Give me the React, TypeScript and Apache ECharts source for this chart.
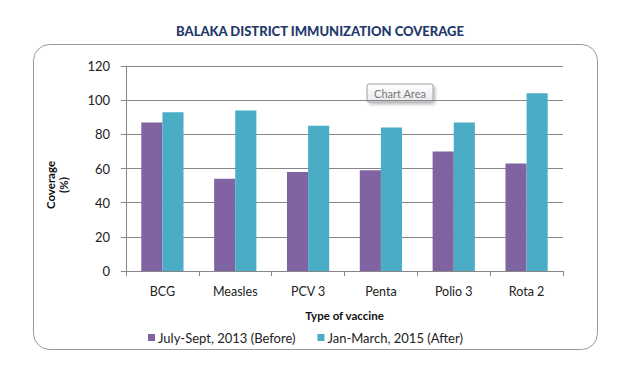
import React, { useEffect, useRef } from "react";
import * as echarts from "echarts";

const categories = ["BCG", "Measles", "PCV 3", "Penta", "Polio 3", "Rota 2"];
const seriesNames = ["July-Sept, 2013 (Before)", "Jan-March, 2015 (After)"];
const beforeValues = [87, 54, 58, 59, 70, 63];
const afterValues = [93, 94, 85, 84, 87, 104];
const yTicks = { min: 0, max: 120, interval: 20 };

const FONT = "Lato, 'Open Sans', sans-serif";

export default function App() {
  const ref = useRef<HTMLDivElement>(null);
  useEffect(() => {
    if (!ref.current) return;
    const chart = echarts.init(ref.current, null, { renderer: "svg" });
    chart.setOption({
      animation: false,
      backgroundColor: "#ffffff",
      title: {
        text: "BALAKA DISTRICT IMMUNIZATION COVERAGE",
        left: 315,
        top: 19,
        textAlign: "center",
        textStyle: {
          fontFamily: FONT,
          fontWeight: 900,
          fontSize: 13,
          color: "#1F3A6B",
        },
      },
      legend: {
        left: 143,
        top: 326,
        itemWidth: 7,
        itemHeight: 7,
        itemGap: 22,
        icon: "rect",
        textStyle: { fontFamily: FONT, fontSize: 13, color: "#222", padding: [0, 0, 0, -2] },
        data: seriesNames,
      },
      grid: { left: 126, right: 73, top: 66, bottom: 101 },
      xAxis: {
        type: "category",
        data: categories,
        name: "Type of vaccine",
        nameLocation: "middle",
        nameGap: 38,
        nameTextStyle: { fontFamily: FONT, fontWeight: "bold", fontSize: 11.5, color: "#111" },
        axisLine: { lineStyle: { color: "#868686" } },
        axisTick: { show: true, alignWithLabel: false, length: 5, lineStyle: { color: "#868686" } },
        axisLabel: { fontFamily: FONT, fontSize: 12.5, color: "#222", margin: 14 },
      },
      yAxis: {
        type: "value",
        min: yTicks.min,
        max: yTicks.max,
        interval: yTicks.interval,
        axisLine: { show: true, lineStyle: { color: "#868686" } },
        axisTick: { show: true, length: 5, lineStyle: { color: "#868686" } },
        axisLabel: { fontFamily: FONT, fontSize: 13, color: "#222", margin: 16 },
        splitLine: { lineStyle: { color: "#868686" } },
      },
      series: [
        {
          name: seriesNames[0],
          type: "bar",
          data: beforeValues,
          itemStyle: { color: "#8064A2" },
          barGap: "0%",
          barCategoryGap: "42%",
        },
        {
          name: seriesNames[1],
          type: "bar",
          data: afterValues,
          itemStyle: { color: "#4BACC6" },
          barGap: "0%",
          barCategoryGap: "42%",
        },
      ],
      graphic: [
        {
          type: "rect",
          shape: { x: 33.5, y: 44.5, width: 564, height: 305, r: 16 },
          style: { fill: "none", stroke: "#9a9a9a", lineWidth: 1 },
          z: -1,
        },
        {
          type: "text",
          x: 57,
          y: 185,
          rotation: Math.PI / 2,
          style: {
            text: "Coverage\n(%)",
            fontFamily: FONT,
            fontWeight: "bold",
            fontSize: 11.5,
            fill: "#111",
            align: "center",
            verticalAlign: "middle",
            lineHeight: 13,
          },
        },
        {
          type: "group",
          x: 367,
          y: 84,
          children: [
            {
              type: "rect",
              shape: { x: 0, y: 0, width: 66, height: 18, r: 2 },
              style: {
                fill: new echarts.graphic.LinearGradient(0, 0, 0, 1, [
                  { offset: 0, color: "#ffffff" },
                  { offset: 1, color: "#e8e8ee" },
                ]),
                stroke: "#a0a0a0",
                lineWidth: 1,
                shadowBlur: 3,
                shadowOffsetX: 2,
                shadowOffsetY: 2,
                shadowColor: "rgba(0,0,0,0.25)",
              },
            },
            {
              type: "text",
              x: 33,
              y: 9,
              style: {
                text: "Chart Area",
                fontFamily: FONT,
                fontSize: 11,
                fill: "#777",
                align: "center",
                verticalAlign: "middle",
              },
            },
          ],
        },
      ],
    });
    return () => chart.dispose();
  }, []);
  return (
    <div
      ref={ref}
      style={{ position: "fixed", left: 0, top: 0, width: 636, height: 372 }}
    />
  );
}
